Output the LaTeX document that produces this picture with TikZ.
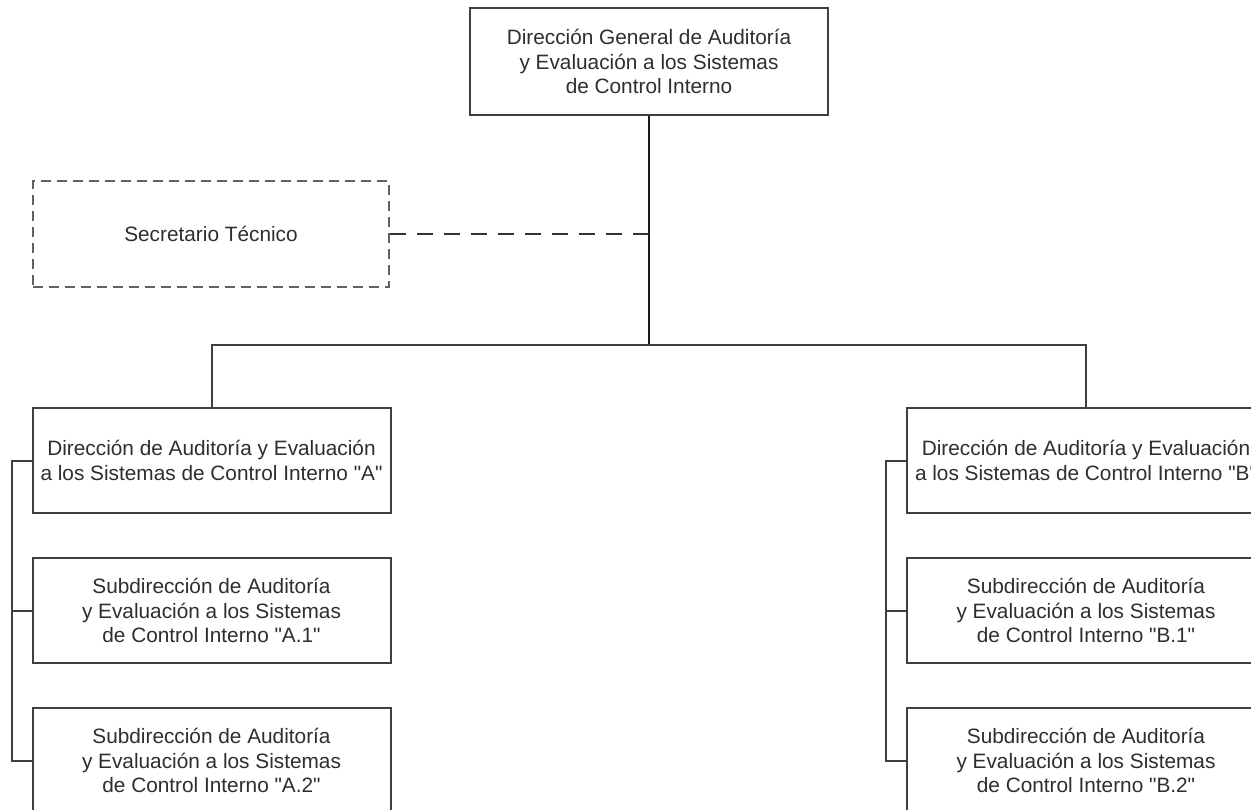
\documentclass[tikz,border=0pt]{standalone}
\usepackage{fontspec}
\setmainfont{Liberation Sans}
\newcommand{\qq}[1]{\textquotedbl#1\textquotedbl}
\begin{document}
\begin{tikzpicture}[x=1pt,y=-1pt,
  unit/.style={draw=black!75, line width=2pt, fill=white, rectangle,
    minimum width=358pt, minimum height=105pt, inner sep=0pt,
    align=center, text=black!82,
    font=\fontsize{20.8}{24.5}\selectfont},
  staff/.style={unit, draw=black!62, dash pattern=on 10pt off 6pt},
  link/.style={draw=black!75, line width=2pt},
  stafflink/.style={draw=black!80, line width=2.6pt, dash pattern=on 16pt off 11pt}]
\useasboundingbox (0,0) rectangle (1251,810);
\clip (0,0) rectangle (1251,810);

% head office
\node[unit, minimum height=107pt] (head) at (649,61.5)
  {Dirección General de Auditoría\\y Evaluación a los Sistemas\\de Control Interno};
% technical secretary
\node[staff, minimum width=356pt, minimum height=106pt] (sec) at (211,234)
  {Secretario Técnico};

% branch A
\node[unit] (dA)  at (211.5,460.5) {Dirección de Auditoría y Evaluación\\a los Sistemas de Control Interno \qq{A}};
\node[unit] (sA1) at (211.5,610.5) {Subdirección de Auditoría\\y Evaluación a los Sistemas\\de Control Interno \qq{A.1}};
\node[unit] (sA2) at (211.5,760.5) {Subdirección de Auditoría\\y Evaluación a los Sistemas\\de Control Interno \qq{A.2}};

% branch B
\node[unit] (dB)  at (1086,460.5) {Dirección de Auditoría y Evaluación\\a los Sistemas de Control Interno \qq{B}};
\node[unit] (sB1) at (1086,610.5) {Subdirección de Auditoría\\y Evaluación a los Sistemas\\de Control Interno \qq{B.1}};
\node[unit] (sB2) at (1086,760.5) {Subdirección de Auditoría\\y Evaluación a los Sistemas\\de Control Interno \qq{B.2}};

% main trunk and bus
\coordinate (bus) at (649,345);
\draw[link, draw=black!90, line width=2.4pt] (head.south) -- (bus);
\draw[link] (dA.north) |- (bus) -| (dB.north);

% staff connector
\draw[stafflink] (sec.east) -- (sec.east -| head.south);

% side brackets
\draw[link] (dA.west) -- ++(-20,0) |- (sA2.west);
\draw[link] (sA1.west) -- ++(-20,0);
\draw[link] (dB.west) -- ++(-20,0) |- (sB2.west);
\draw[link] (sB1.west) -- ++(-20,0);
\end{tikzpicture}
\end{document}
